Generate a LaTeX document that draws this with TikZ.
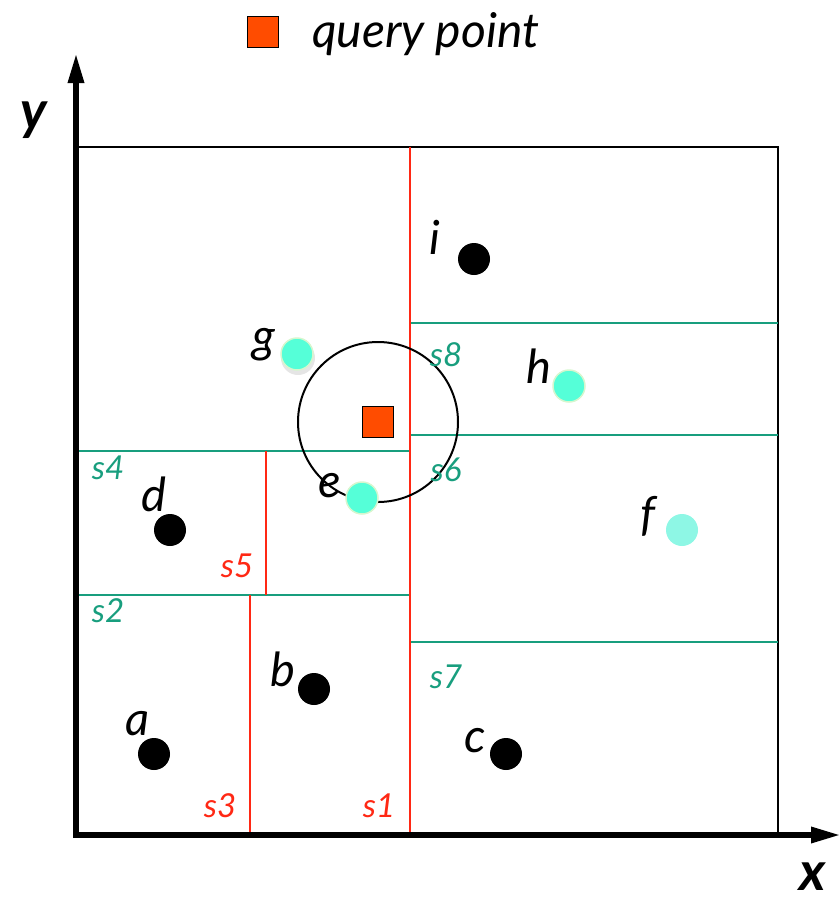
\documentclass[tikz,border=0pt]{standalone}
\usepackage{fontspec}
\setmainfont{Lato}
\usetikzlibrary{arrows.meta}
\definecolor{qred}{RGB}{255,76,0}
\definecolor{segred}{RGB}{255,40,20}
\definecolor{seggreen}{RGB}{24,158,126}
\definecolor{cyanpt}{RGB}{85,255,216}
\definecolor{cyanrim}{RGB}{214,246,206}
\definecolor{cyanlight}{RGB}{142,247,229}
\tikzset{
  blackdot/.style={circle,fill=black,inner sep=0pt,minimum size=32pt},
  cyandot/.style={circle,fill=cyanpt,draw=cyanrim,line width=1.5pt,inner sep=0pt,minimum size=32pt},
  lightdot/.style={circle,fill=cyanlight,inner sep=0pt,minimum size=32pt},
  ptlab/.style={anchor=base,inner sep=0pt,font=\fontsize{47}{50}\selectfont\itshape},
  greenlab/.style={anchor=base,inner sep=0pt,text=seggreen,font=\fontsize{33}{36}\selectfont\itshape},
  redlab/.style={anchor=base,inner sep=0pt,text=segred,font=\fontsize{33}{36}\selectfont\itshape},
  axislab/.style={anchor=base,inner sep=0pt,text depth=0pt,font=\fontsize{54}{58}\selectfont\bfseries\itshape},
  qsquare/.style={draw=black,line width=1.5pt,fill=qred,inner sep=0pt,minimum size=31pt},
  greenseg/.style={draw=seggreen,line width=2pt},
  redseg/.style={draw=segred,line width=2pt},
  axis/.style={line width=6pt,-{Triangle[length=30pt,width=15pt]}}
}
\begin{document}
\begin{tikzpicture}[x=1pt,y=-1pt]
\useasboundingbox (0,0) rectangle (840,900);
% frame
\draw[line width=1.5pt] (77,147) rectangle (778,833);
% splitting lines
\draw[greenseg] (77,595) -- (410,595);
\draw[greenseg] (77,451) -- (410,451);
\draw[greenseg] (410,435) -- (778,435);
\draw[greenseg] (410,642) -- (778,642);
\draw[greenseg] (410,323) -- (778,323);
\draw[redseg] (250,595) -- (250,833);
\draw[redseg] (266,451) -- (266,595);
\draw[redseg] (410,147) -- (410,833);
% axes
\coordinate (o) at (76,835);
\coordinate (ytip) at (76,53);
\coordinate (xtip) at (841,835);
\draw[axis] (76,837) -- (ytip);
\draw[axis] (73,835) -- (xtip);
\node[axislab] (ylab) at (34,129) {y};
\node[axislab] (xlab) at (813,890) {x};
% legend
\node[qsquare] (legsq) at (263,32) {};
\node[anchor=base west,inner sep=0pt,font=\fontsize{48}{52}\selectfont\itshape] (legtxt) at (312,47) {query point};
% search circle
\draw[line width=2pt] (378,422) circle[radius=80pt];
% points
\node[blackdot] (pi) at (474,259) {};
\node[blackdot] (pd) at (170,530) {};
\node[blackdot] (pb) at (314,689) {};
\node[blackdot] (pa) at (154,754) {};
\node[blackdot] (pc) at (506,754) {};
\fill[black,opacity=0.10] (298,358) circle[radius=17pt];
\node[cyandot] (pg) at (297,354) {};
\node[cyandot] (pe) at (362,498) {};
\node[cyandot] (ph) at (569,386) {};
\node[lightdot] (pf) at (682,530) {};
% query point
\node[qsquare] (q) at (378,422) {};
% point labels
\node[ptlab] (li) at (435,254) {i};
\node[ptlab] (ld) at (154,511) {d};
\node[ptlab] (lb) at (283,686) {b};
\node[ptlab] (la) at (138,735) {a};
\node[ptlab] (lc) at (475,752) {c};
\node[ptlab] (lg) at (264,352) {g};
\node[ptlab] (le) at (330,497) {e};
\node[ptlab] (lh) at (539,383) {h};
\node[ptlab] (lf) at (648,530) {f};
% segment labels
\node[greenlab] (s4) at (108,479) {s4};
\node[greenlab] (s2) at (108,622) {s2};
\node[greenlab] (s8) at (446,366) {s8};
\node[greenlab] (s6) at (446,481) {s6};
\node[greenlab] (s7) at (446,688) {s7};
\node[redlab] (s5) at (237,577) {s5};
\node[redlab] (s3) at (220,817) {s3};
\node[redlab] (s1) at (379,817) {s1};
\end{tikzpicture}
\end{document}
